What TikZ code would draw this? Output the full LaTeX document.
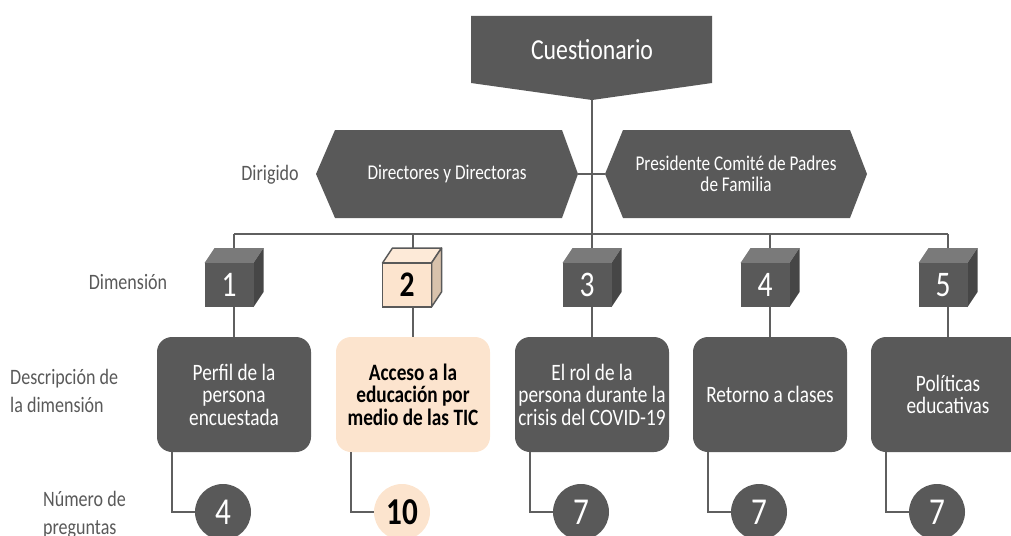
\documentclass[tikz,border=0pt]{standalone}
\usepackage{fontspec}
\setmainfont{Carlito}[FakeStretch=0.82]
\definecolor{dg}{HTML}{595959}
\definecolor{tg}{HTML}{7A7A7A}
\definecolor{sg}{HTML}{464646}
\definecolor{pe}{HTML}{FCE4CE}
\definecolor{pet}{HTML}{FDEAD8}
\definecolor{pes}{HTML}{D8C2AC}
\definecolor{ln}{HTML}{5F5F5F}
\definecolor{lb}{HTML}{595959}
\begin{document}
\begin{tikzpicture}[x=1pt,y=-1pt,
  conn/.style={draw=ln, line width=1.4pt},
  face/.style={rectangle, minimum width=49pt, minimum height=44pt, inner sep=0pt, outer sep=0pt, fill=dg, text=white, font=\fontsize{36}{36}\selectfont},
  pface/.style={face, fill=pe, draw=dg, line width=1.5pt, text=black, font=\fontsize{36}{36}\selectfont\bfseries},
  gtop/.style={fill=tg},
  gside/.style={fill=sg},
  ptop/.style={fill=pet, draw=dg, line width=1.5pt, line join=round},
  pside/.style={fill=pes, draw=dg, line width=1.5pt, line join=round},
  dbox/.style={rectangle, rounded corners=15pt, minimum width=154pt, minimum height=115pt, fill=dg, text=white, align=center, font=\fontsize{23.5}{22.5}\selectfont, inner sep=0pt, outer sep=0pt},
  pbox/.style={dbox, fill=pe, text=black, font=\fontsize{23.5}{22.5}\selectfont\bfseries},
  num/.style={circle, minimum size=56pt, inner sep=0pt, outer sep=0pt, fill=dg, text=white, font=\fontsize{38}{38}\selectfont},
  pnum/.style={num, fill=pe, text=black, font=\fontsize{38}{38}\selectfont\bfseries},
  lbl/.style={text=lb, font=\fontsize{22}{28}\selectfont, align=left, inner sep=0pt},
  hexshape/.style={fill=dg},
  hext/.style={text=white, font=\fontsize{21}{21}\selectfont, align=center, inner sep=0pt}
]
\useasboundingbox (0,0) rectangle (1011,535);
\clip (0,0) rectangle (1011,535);

% top pentagon
\fill[dg] (471,16) -- (712,16) -- (712,83) -- (592,100) -- (471,83) -- cycle;
\node[text=white, font=\fontsize{29}{29}\selectfont, inner sep=0pt] (cue) at (592,50) {Cuestionario};
\coordinate (cuetip) at (592,100);

% hexagons
\fill[hexshape] (316,174) -- (335,130) -- (562,130) -- (578,174) -- (562,218) -- (335,218) -- cycle;
\node[hext] (h1) at (447,174) {Directores y Directoras};
\coordinate (h1e) at (578,174);
\fill[hexshape] (605,174) -- (623,130) -- (850,130) -- (867,174) -- (850,218) -- (623,218) -- cycle;
\node[hext] (h2) at (736,174) {Presidente Comité de Padres\\de Familia};
\coordinate (h2w) at (605,174);

% bar coordinates
\coordinate (t1) at (234,234);
\coordinate (t2) at (413,234);
\coordinate (t3) at (592,234);
\coordinate (t4) at (770,234);
\coordinate (t5) at (948,234);

\draw[conn] (cuetip) -- (t3);
\draw[conn] (h1e) -- (h2w);
\draw[conn] (t1) -- (t5);

% description boxes
\node[dbox] (b1) at (234,394.5) {Perfil de la\\persona\\encuestada};
\node[pbox] (b2) at (413,394.5) {Acceso a la\\educación por\\medio de las TIC};
\node[dbox] (b3) at (592,394.5) {El rol de la\\persona durante la\\crisis del COVID-19};
\node[dbox] (b4) at (770,394.5) {Retorno a clases};
\node[dbox] (b5) at (948,394.5) {Políticas\\educativas};

\foreach \i in {1,...,5} {\draw[conn] (t\i) -- (b\i.north);}

% cubes
\newcommand\mycube[5]{%
  \node[#4] (#1) at (#2,285) {#3};
  \path[#5top] (#1.north west) -- ([shift={(10,-15)}]#1.north west) -- ([shift={(10,-15)}]#1.north east) -- (#1.north east) -- cycle;
  \path[#5side] (#1.north east) -- ([shift={(10,-15)}]#1.north east) -- ([shift={(10,-15)}]#1.south east) -- (#1.south east) -- cycle;
  \node[#4] at (#1) {#3};
}
\mycube{d1}{229}{1}{face}{g}
\mycube{d2}{407}{2}{pface}{p}
\mycube{d3}{587}{3}{face}{g}
\mycube{d4}{765}{4}{face}{g}
\mycube{d5}{943}{5}{face}{g}

% number circles
\node[num] (n1) at (223,512) {4};
\node[pnum] (n2) at (402,512) {10};
\node[num] (n3) at (581,512) {7};
\node[num] (n4) at (759,512) {7};
\node[num] (n5) at (937,512) {7};

\foreach \i in {1,...,5} {\draw[conn] ([xshift=15pt]b\i.south west) |- (n\i.west);}

% left labels
\node[lbl] (l1) at (270,175) {Dirigido};
\node[lbl] (l2) at (128,282) {Dimensión};
\node[lbl, anchor=west] (l3) at (10,391) {Descripción de\\la dimensión};
\node[lbl, anchor=west] (l4) at (43,515) {Número de\\preguntas};
\end{tikzpicture}
\end{document}
